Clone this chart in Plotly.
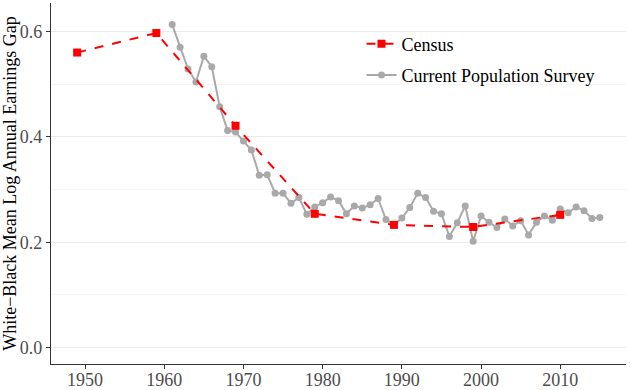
import plotly.graph_objects as go

# Census (decennial) points
census_years = [1949, 1959, 1969, 1979, 1989, 1999, 2010]
census_gap = [0.560, 0.597, 0.421, 0.254, 0.233, 0.229, 0.252]

# Current Population Survey, annual
cps_years = list(range(1961, 2016))
cps_gap = [
    0.613, 0.570, 0.529, 0.504, 0.553, 0.533, 0.457, 0.412, 0.409, 0.392,
    0.375, 0.327, 0.328, 0.293, 0.293, 0.274, 0.285, 0.253, 0.267, 0.275,
    0.286, 0.279, 0.254, 0.269, 0.265, 0.271, 0.283, 0.243, 0.232, 0.246,
    0.266, 0.293, 0.285, 0.259, 0.254, 0.211, 0.237, 0.269, 0.202, 0.250,
    0.238, 0.228, 0.244, 0.231, 0.241, 0.214, 0.238, 0.250, 0.242, 0.263,
    0.256, 0.267, 0.260, 0.245, 0.247,
]

x_ticks = [1950, 1960, 1970, 1980, 1990, 2000, 2010]
y_ticks = [0.0, 0.2, 0.4, 0.6]

FONT = "'Liberation Serif', 'Times New Roman', 'DejaVu Serif', serif"

fig = go.Figure()

# CPS first so the census series is drawn on top
fig.add_trace(go.Scatter(
    x=cps_years, y=cps_gap,
    mode="lines+markers",
    name="Current Population Survey",
    legend="legend2",
    line=dict(color="#A9A9A9", width=2),
    marker=dict(color="#A9A9A9", size=7, symbol="circle"),
))

fig.add_trace(go.Scatter(
    x=census_years, y=census_gap,
    mode="lines+markers",
    name="Census",
    legend="legend",
    line=dict(color="#FF0000", width=2, dash="dash"),
    marker=dict(color="#FF0000", size=8, symbol="square"),
))

legend_style = dict(
    xanchor="left", yanchor="middle",
    bgcolor="rgba(0,0,0,0)",
    font=dict(family=FONT, size=18, color="black"),
)

fig.update_layout(
    width=630,
    height=390,
    margin=dict(l=51, r=4, t=3, b=26),
    plot_bgcolor="white",
    paper_bgcolor="white",
    font=dict(family=FONT, size=18, color="black"),
    showlegend=True,
    legend=dict(x=0.54, y=0.886, **legend_style),
    legend2=dict(x=0.54, y=0.800, **legend_style),
    xaxis=dict(
        range=[1945.7, 2018.3],
        tickvals=x_ticks,
        automargin=False,
        showgrid=False,
        zeroline=False,
        showline=True,
        linecolor="#333333",
        linewidth=1.2,
        ticks="outside",
        ticklen=4,
        tickcolor="#333333",
        ticklabelstandoff=-5,
        tickfont=dict(family=FONT, size=18, color="#4D4D4D"),
    ),
    yaxis=dict(
        range=[-0.031, 0.654],
        tickvals=y_ticks,
        tickformat=".1f",
        automargin=False,
        showgrid=True,
        gridcolor="#EBEBEB",
        gridwidth=1,
        zeroline=False,
        showline=True,
        linecolor="#333333",
        linewidth=1.2,
        ticks="outside",
        ticklen=4,
        tickcolor="#333333",
        tickfont=dict(family=FONT, size=18, color="#4D4D4D"),
        minor=dict(tickvals=[0.1, 0.3, 0.5], showgrid=True, gridcolor="#F5F5F5", ticks=""),
        title=dict(text="White\u2212Black Mean Log Annual Earnings Gap",
                   font=dict(family=FONT, size=18, color="black"), standoff=3),
    ),
)

# drop the default 8px body margin so the figure sits at the window's corner
fig.write_html(
    "out.html",
    config={"displayModeBar": False},
    post_script="document.body.style.margin='0px';",
)
